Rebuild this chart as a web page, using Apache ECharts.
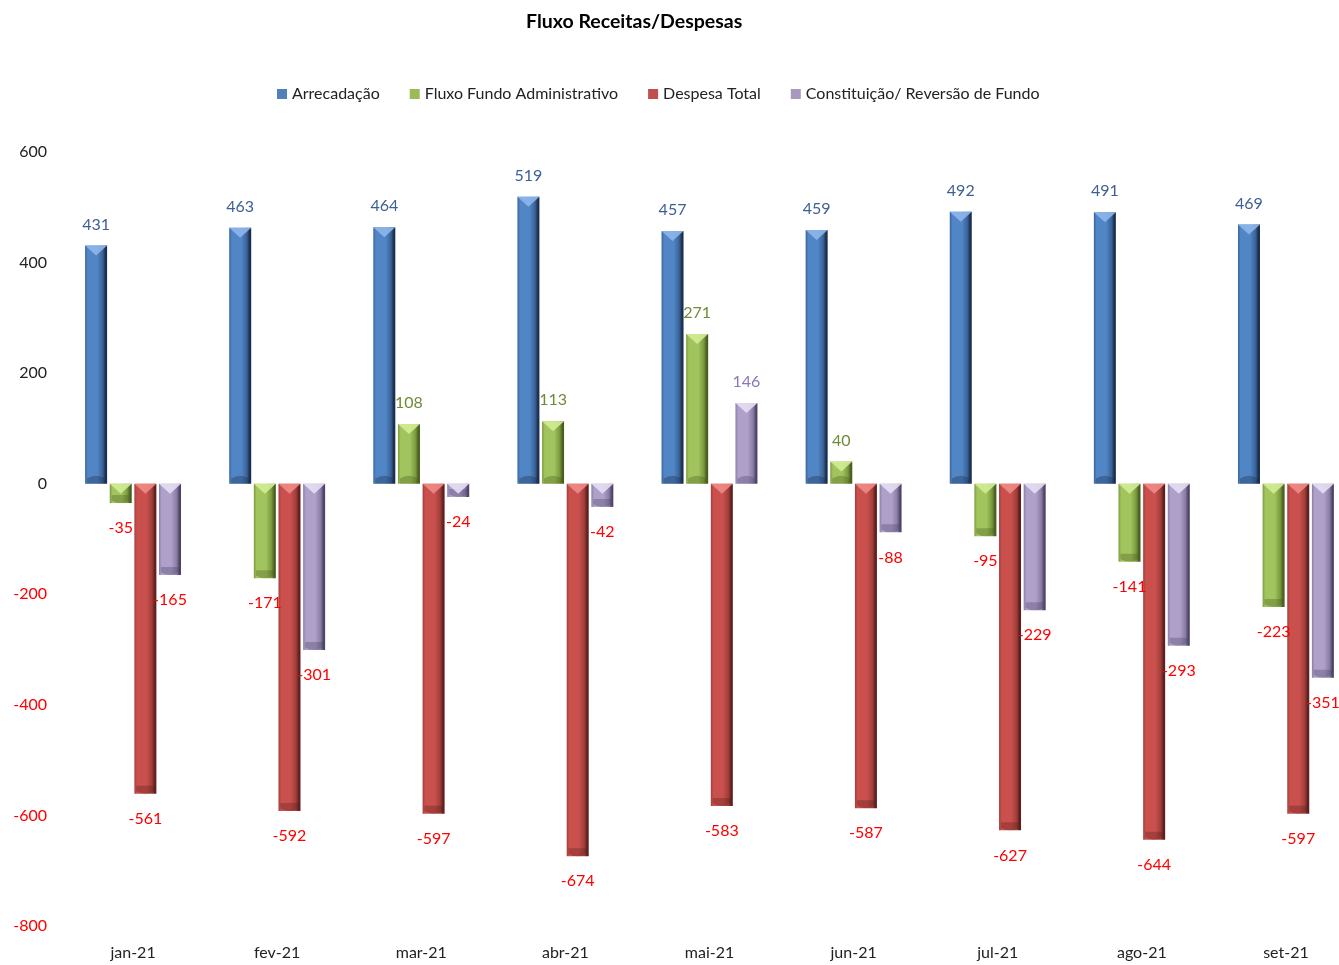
<!DOCTYPE html>
<html><head><meta charset="utf-8">
<script src="https://cdn.jsdelivr.net/npm/echarts@6/dist/echarts.min.js"></script>
<style>html,body{margin:0;padding:0;background:#fff}#c{width:1339px;height:965px}</style>
</head><body><div id="c"></div>
<script>
const categories = ['jan-21','fev-21','mar-21','abr-21','mai-21','jun-21','jul-21','ago-21','set-21'];
const seriesNames = ['Arrecadação','Fluxo Fundo Administrativo','Despesa Total','Constituição/ Reversão de Fundo'];
const arrecadacao = [431,463,464,519,457,459,492,491,469];
const fluxoFundo = [-35,-171,108,113,271,40,-95,-141,-223];
const despesaTotal = [-561,-592,-597,-674,-583,-587,-627,-644,-597];
const constituicao = [-165,-301,-24,-42,146,-88,-229,-293,-351];
const yTicks = {min:-800, max:600, interval:200};

const FONT = 'Lato';
const dataSets = [arrecadacao, fluxoFundo, despesaTotal, constituicao];
const styles = [
  {edge:'#3A6398', mid:'#5186C6', dark:'#1B2F4D', tri:'#8DB6EA', label:'#3E5F92', legend:'#4F81BD'},
  {edge:'#7A9A3C', mid:'#A2C45E', dark:'#4A5E22', tri:'#D2EC94', label:'#6F8B35', legend:'#9BBB59'},
  {edge:'#A03E3B', mid:'#C9504D', dark:'#5E1F1D', tri:'#F08A86', label:'#FF0000', legend:'#C0504D'},
  {edge:'#8A7CA6', mid:'#AFA0C9', dark:'#4E4566', tri:'#E6DDF5', label:'#8E76B8', legend:'#A898C0'}
];
const BW = 22, GAP = '12%';

function grad(s){
  return {type:'linear', x:0, y:0, x2:1, y2:0, colorStops:[
    {offset:0, color:s.edge},{offset:0.12, color:s.mid},{offset:0.55, color:s.mid},
    {offset:0.8, color:s.edge},{offset:0.93, color:s.dark},{offset:1, color:s.dark}]};
}

const series = [];
dataSets.forEach((vals, i) => {
  const s = styles[i];
  series.push({
    name: seriesNames[i], type:'bar', barWidth:BW, barGap:GAP, xAxisIndex:0,
    itemStyle:{color:grad(s)},
    data: vals.map(v => ({value:v, label:{color: v < 0 ? '#FF0000' : s.label, distance: v < 0 ? 17 : 13}})),
    label:{show:true, position:'outside', fontFamily:FONT, fontSize:16}
  });
});
dataSets.forEach((vals, i) => {
  const s = styles[i];
  series.push({
    name: 'tri'+i, type:'pictorialBar', barWidth:BW, barGap:GAP, z:5, xAxisIndex:0,
    symbolSize:[BW,10],
    itemStyle:{color:s.tri, opacity:0.9},
    data: vals.map(v => ({value:v,
      symbol: v >= 0 ? 'path://M0,0 L10,0 L5,4.5 Z' : 'path://M0,4.5 L10,4.5 L5,0 Z',
      symbolPosition: v >= 0 ? 'end' : 'start'})),
    silent:true, legendHoverLink:false
  });
});
dataSets.forEach((vals, i) => {
  const s = styles[i];
  series.push({
    name: 'bot'+i, type:'pictorialBar', barWidth:BW, barGap:GAP, z:4, xAxisIndex:1,
    symbolSize:[BW-4,8],
    itemStyle:{color:s.dark, opacity:0.35},
    data: vals.map(v => ({value:v,
      symbol: 'path://M0,3 Q5,0 10,3 L10,6 L0,6 Z',
      symbolPosition: v >= 0 ? 'start' : 'end'})),
    silent:true, legendHoverLink:false
  });
});

const chart = echarts.init(document.getElementById('c'));
chart.setOption({
  animation:false,
  title:{text:'Fluxo Receitas/Despesas', left:521, top:7,
    textStyle:{fontFamily:FONT, fontSize:19.5, fontWeight:'bold', color:'#000'}},
  legend:{data:seriesNames.map((n,i)=>({name:n, itemStyle:{color:styles[i].legend}})), top:81, left:272,
    icon:'rect', itemWidth:10, itemHeight:10, itemGap:30, itemStyle:{borderWidth:0},
    textStyle:{fontFamily:FONT, fontSize:16, color:'#222'}},
  grid:{left:61, width:1297, top:152, bottom:39, containLabel:false, outerBoundsMode:'none'},
  xAxis:[{type:'category', data:categories, position:'bottom',
    axisLine:{show:false}, axisTick:{show:false},
    axisLabel:{fontFamily:FONT, fontSize:16, color:'#222', margin:19}},
    {type:'category', data:categories, show:false}],
  yAxis:{type:'value', min:yTicks.min, max:yTicks.max, interval:yTicks.interval,
    splitLine:{show:false}, axisLine:{show:false}, axisTick:{show:false},
    axisLabel:{fontFamily:FONT, fontSize:16, margin:14,
      color:(v)=> (Number(v) < 0 ? '#FF0000' : '#222')}},
  series: series
});
</script></body></html>
